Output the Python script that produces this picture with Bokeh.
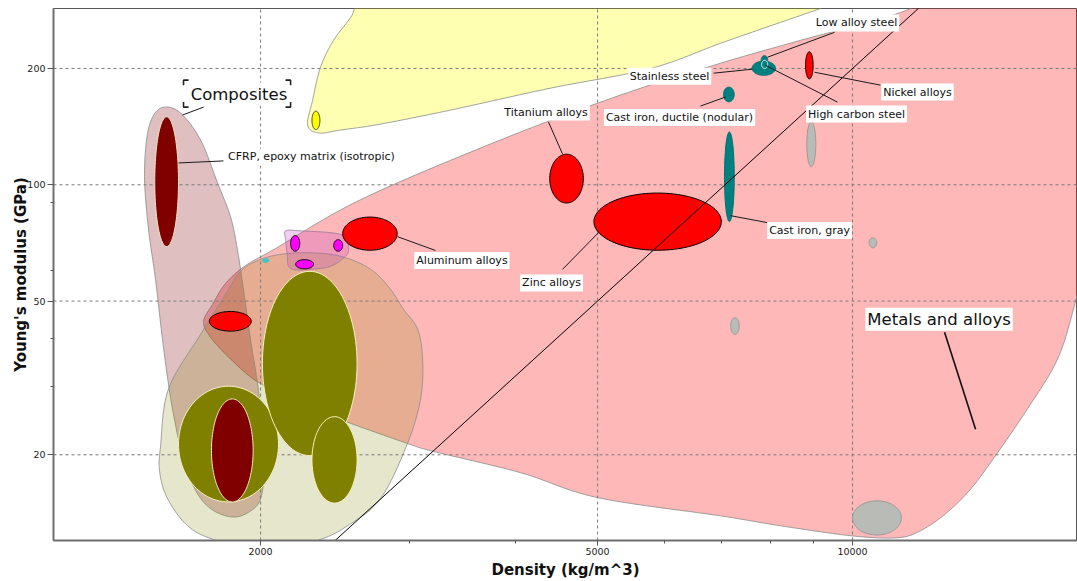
import numpy as np
from bokeh.plotting import figure
from bokeh.models import Label, FixedTicker, NumeralTickFormatter, ColumnDataSource
from bokeh.embed import file_html
from bokeh.resources import INLINE

# ---------------- materials: property ranges ----------------
material = ["Brick", "Stone", "Concrete", "GFRP, epoxy matrix (isotropic)",
            "CFRP, epoxy matrix (isotropic)", "Silicon", "Magnesium alloys",
            "Silica glass", "Borosilicate glass", "Soda-lime glass",
            "Aluminum alloys", "Titanium alloys", "Zinc alloys",
            "Cast iron, gray", "Cast iron, ductile (nodular)", "Stainless steel",
            "Low alloy steel", "High carbon steel", "Nickel alloys",
            "Copper alloys", "Tin", "Silver", "Lead alloys", "Other"]
family = ["Non-technical ceramics", "Non-technical ceramics", "Non-technical ceramics",
          "Composites", "Composites", "Technical ceramics", "Non-ferrous metals",
          "Glasses", "Glasses", "Glasses",
          "Non-ferrous metals", "Non-ferrous metals", "Non-ferrous metals",
          "Ferrous metals", "Ferrous metals", "Ferrous metals",
          "Ferrous metals", "Ferrous metals", "Non-ferrous metals",
          "Other metals", "Other metals", "Other metals", "Other metals", "Other"]
density_min = [1600, 2010, 2300, 1750, 1500, 2300, 1740, 2170, 2200, 2440,
               2500, 4390, 4950, 7060, 7040, 7610, 7800, 7810, 8800,
               8830, 7180, 10460, 10000, 2010]
density_max = [2100, 2600, 2600, 1960, 1600, 2350, 1950, 2225, 2310, 2500,
               2900, 4810, 7000, 7250, 7250, 8110, 7940, 7940, 8985,
               9050, 7350, 10680, 11420, 2045]
modulus_min = [15.1, 19.9, 15.0, 15.1, 69.2, 139, 41.8, 67.3, 60.6, 67.3,
               67.7, 89.7, 67.7, 80.3, 164, 192, 204, 200, 188,
               111.5, 41.0, 68.7, 12.4, 63.0]
modulus_max = [30.1, 59.7, 25.1, 27.9, 150, 155, 47.0, 73.9, 64.0, 72.1,
               82.5, 120, 95.2, 137, 179, 209, 216, 210, 221,
               145.6, 45.3, 72.9, 15.2, 64.4]

# ---------------- family envelopes (outline points, kg/m^3 and GPa) ----------------
ceramics_env_density = [2273, 2304, 2354, 2439, 2555, 2749, 3839, 6615, 11394, 9167,
                        8222, 6985, 5775, 4399, 3352, 2771, 2486, 2342]
ceramics_env_modulus = [142.8, 165.6, 201.5, 236.6, 271, 338, 338, 338, 338, 286,
                        263.3, 232.5, 200, 177.9, 156.1, 143.6, 138.6, 136.2]

metals_env_density = [1713, 1755, 1818, 1920, 2083, 2625, 3839, 5321, 6985, 8682,
                      11394, 14951, 21290, 19620, 18335, 17460, 16090, 14750,
                      13785, 12874, 12030, 11303, 9972, 8222, 6985, 4998, 4055, 3202,
                      2982, 2533, 2230, 1984, 1843, 1746]
metals_env_modulus = [44.3, 49.0, 55.5, 61.8, 68.4, 91.5, 130.6, 170.7, 206.4, 236.6,
                      279.3, 358, 380, 91.5, 49.9, 35.4, 26.3, 19.9,
                      16.3, 14.06, 12.72, 12.2, 12.34, 13.1, 13.9, 15.5, 17.98, 20.4,
                      21.4, 24.3, 27.2, 30.9, 35.4, 40.3]

composites_env_density = [1537, 1609, 1699, 1779, 1843, 1878, 1909, 1946, 1984, 2011,
                          2022, 2000, 1946, 1858, 1755, 1681, 1622, 1574, 1537, 1503,
                          1475, 1459, 1467, 1491]
composites_env_modulus = [158.9, 153.4, 130.6, 101.2, 82.7, 68.0, 53.6, 39.8, 30.5, 23.3,
                          18.4, 15.4, 14.3, 13.8, 14.4, 16.0, 19.5, 26.3, 37.5, 56.9,
                          76.5, 103.0, 130.6, 149.7]

nontech_env_density = [1894, 2000, 2152, 2373, 2555, 2719, 2848, 2950, 3065, 3107,
                       3090, 2982, 2771, 2533, 2335, 2027, 1760, 1640, 1553, 1520,
                       1524, 1557, 1699, 1818]
nontech_env_modulus = [59.7, 64.1, 66.4, 66.4, 64.1, 59.7, 53.6, 47.6, 42.3, 35.4,
                       27.9, 21.4, 15.4, 13.1, 12.0, 11.1, 12.07, 13.1, 15.4, 18.1,
                       21.1, 29.6, 41.0, 52.0]

glasses_env_density = [2141, 2230, 2440, 2530, 2541, 2525, 2419, 2291, 2199, 2158, 2150, 2141]
glasses_env_modulus = [76.0, 76.0, 75.0, 73.0, 69.5, 65.6, 61.5, 60.4, 60.2, 61.5, 66.0, 72.1]

# ---------------- axes ----------------
density_ticks = [2000, 5000, 10000]
density_minor_ticks = [3000, 4000, 6000, 7000, 8000, 9000]
modulus_ticks = [20, 50, 100, 200]
modulus_minor_ticks = [30, 40, 60, 90]
density_range = (1139, 18435)
modulus_range = (12.0, 286)

# guide line of slope 2 (E^1/2 / rho = const) through 5000 kg/m^3, 50 GPa
guide_density = 5000
guide_modulus = 50
guide_slope = 2

# ---------------- annotations ----------------
label_text = ["Composites", "CFRP, epoxy matrix (isotropic)", "Titanium alloys",
              "Stainless steel", "Cast iron, ductile (nodular)", "Low alloy steel",
              "Nickel alloys", "High carbon steel", "Cast iron, gray",
              "Aluminum alloys", "Zinc alloys", "Metals and alloys"]
label_density = [1886, 2297, 4346, 6080, 6248, 10109, 11930, 10109, 8897, 3458, 4412, 12652]
label_modulus = [171.7, 118.1, 154.3, 191.0, 149.3, 262.5, 173.8, 152.4, 76.1, 63.7, 55.7, 44.9]
label_big = {"Composites", "Metals and alloys"}

leader_x0 = [1713, 1600, 4375, 6853, 6615, 9521, 9018, 7893, 7177, 2902, 5013, 12843]
leader_y0 = [158.9, 113.9, 145.4, 194.5, 159.9, 248.1, 195.6, 203.9, 83.2, 73.4, 75.2, 41.5]
leader_x1 = [1618, 1808, 4545, 7617, 7079, 7936, 10790, 9598, 7936, 3218, 4545, 13973]
leader_y1 = [151.6, 115.3, 120.2, 199.2, 168.7, 213.9, 181.1, 163.7, 79.8, 67.6, 60.4, 23.3]

bracket_density = (1622, 2170)
bracket_modulus = (158.9, 186.6)

# ---------------- styles ----------------
fam_fill = {"Non-technical ceramics": "#808000", "Composites": "#800000",
            "Technical ceramics": "#FFFF00", "Non-ferrous metals": "#FF0000",
            "Glasses": "#FF00FF", "Ferrous metals": "#008080",
            "Other metals": "#B9BBB6", "Other": "#3CC8C8"}
fam_line = {"Non-technical ceramics": "#F6F2C0", "Composites": "#F0E4C4",
            "Technical ceramics": "#333333", "Non-ferrous metals": "#000000",
            "Glasses": "#000000", "Ferrous metals": "#007070",
            "Other metals": "#9A9A9A", "Other": "#3CC8C8"}
special_line = {"High carbon steel": "#FFFFFF"}
FONT = "DejaVu Sans"


def closed_spline(xs, ys, n=14):
    P = np.column_stack([np.log10(xs), np.log10(ys)])
    m = len(P)
    out = []
    for i in range(m):
        p0, p1, p2, p3 = P[(i - 1) % m], P[i], P[(i + 1) % m], P[(i + 2) % m]
        for t in np.linspace(0, 1, n, endpoint=False):
            t2, t3 = t * t, t * t * t
            out.append(0.5 * (2 * p1 + (-p0 + p2) * t
                              + (2 * p0 - 5 * p1 + 4 * p2 - p3) * t2
                              + (-p0 + 3 * p1 - 3 * p2 + p3) * t3))
    out = np.array(out)
    return list(10 ** out[:, 0]), list(10 ** out[:, 1])


def log_ellipse(dmin, dmax, emin, emax, n=100):
    cx = (np.log10(dmin) + np.log10(dmax)) / 2
    rx = (np.log10(dmax) - np.log10(dmin)) / 2
    cy = (np.log10(emin) + np.log10(emax)) / 2
    ry = (np.log10(emax) - np.log10(emin)) / 2
    t = np.linspace(0, 2 * np.pi, n, endpoint=False)
    return list(10 ** (cx + rx * np.cos(t))), list(10 ** (cy + ry * np.sin(t)))


p = figure(width=1077, height=581, x_axis_type="log", y_axis_type="log",
           x_range=density_range, y_range=modulus_range,
           output_backend="svg", toolbar_location=None,
           min_border_left=53, min_border_right=0, min_border_top=8, min_border_bottom=39,
           background_fill_color="white", border_fill_color="white")
p.grid.visible = False
p.outline_line_color = "#555555"
p.outline_line_width = 1

# envelopes
envelopes = [
    (ceramics_env_density, ceramics_env_modulus, "#FFFF00", 0.30, "#8C8C8C"),
    (metals_env_density, metals_env_modulus, "#FF0000", 0.28, "#8C8C8C"),
    (composites_env_density, composites_env_modulus, "#800000", 0.25, "#8C8C8C"),
    (nontech_env_density, nontech_env_modulus, "#808000", 0.20, "#8C8C8C"),
    (glasses_env_density, glasses_env_modulus, "#C040C0", 0.25, "#9A7A9A"),
]
for dx, my, col, a, lc in envelopes:
    sx, sy = closed_spline(dx, my)
    p.patch(sx, sy, fill_color=col, fill_alpha=a, line_color=lc,
            line_width=0.9, line_alpha=0.9)

# grid lines (above envelopes, below materials)
p.segment(x0=density_ticks, y0=[modulus_range[0]] * len(density_ticks),
          x1=density_ticks, y1=[modulus_range[1]] * len(density_ticks),
          line_color="#7A7A7A", line_dash="3 3", line_width=1)
p.segment(x0=[density_range[0]] * len(modulus_ticks), y0=modulus_ticks,
          x1=[density_range[1]] * len(modulus_ticks), y1=modulus_ticks,
          line_color="#7A7A7A", line_dash="3 3", line_width=1)

# material ellipses
xs, ys, fills, lines = [], [], [], []
for name, fam, d0, d1, e0, e1 in zip(material, family, density_min, density_max,
                                     modulus_min, modulus_max):
    ex, ey = log_ellipse(d0, d1, e0, e1)
    xs.append(ex)
    ys.append(ey)
    fills.append(fam_fill[fam])
    lines.append(special_line.get(name, fam_line[fam]))
src = ColumnDataSource(dict(xs=xs, ys=ys, fill=fills, line=lines, name=material))
p.patches("xs", "ys", source=src, fill_color="fill", line_color="line", line_width=1)

# guide line
gx = np.array(density_range, dtype=float)
gy = guide_modulus * (gx / guide_density) ** guide_slope
p.line(gx, gy, line_color="black", line_width=1)

# leaders
p.segment(x0=leader_x0[:-1], y0=leader_y0[:-1], x1=leader_x1[:-1], y1=leader_y1[:-1],
          line_color="#1A1A1A", line_width=1)
p.segment(x0=leader_x0[-1:], y0=leader_y0[-1:], x1=leader_x1[-1:], y1=leader_y1[-1:],
          line_color="#111111", line_width=1.6)

# bracket corners around "Composites"
ax, ay = 10 ** 0.006, 10 ** 0.013
bx0, bx1 = bracket_density
by0, by1 = bracket_modulus
corners_x = [[bx0 * ax, bx0, bx0], [bx1 / ax, bx1, bx1], [bx0 * ax, bx0, bx0], [bx1 / ax, bx1, bx1]]
corners_y = [[by1, by1, by1 / ay], [by1, by1, by1 / ay], [by0, by0, by0 * ay], [by0, by0, by0 * ay]]
p.multi_line(corners_x, corners_y, line_color="#222222", line_width=1.6)

# labels
for txt, lx, ly in zip(label_text, label_density, label_modulus):
    big = txt in label_big
    p.add_layout(Label(x=lx, y=ly, text=txt, text_align="center", text_baseline="middle",
                       text_font=FONT, text_font_size="16.5px" if big else "11px",
                       text_color="#111111", background_fill_color="white",
                       background_fill_alpha=1.0, padding=2))

# axes
for ax_ in (p.xaxis[0], p.yaxis[0]):
    ax_.axis_line_color = "#6E6E6E"
    ax_.axis_line_width = 2
    ax_.major_tick_line_color = "#555555"
    ax_.minor_tick_line_color = "#555555"
    ax_.major_tick_in = 0
    ax_.minor_tick_in = 0
    ax_.major_label_text_font = FONT
    ax_.major_label_text_font_size = "9.5px"
    ax_.major_label_text_color = "#222222"
    ax_.axis_label_text_font = FONT
    ax_.axis_label_text_font_style = "bold"
    ax_.axis_label_text_font_size = "15px"
    ax_.axis_label_text_color = "#111111"
    ax_.major_label_standoff = 2
    ax_.formatter = NumeralTickFormatter(format="0")

p.xaxis.ticker = FixedTicker(ticks=density_ticks, minor_ticks=density_minor_ticks)
p.yaxis.ticker = FixedTicker(ticks=modulus_ticks, minor_ticks=modulus_minor_ticks)
p.xaxis.major_tick_out = 5
p.xaxis.minor_tick_out = 3
p.yaxis.major_tick_out = 6
p.yaxis.minor_tick_out = 3
p.xaxis.axis_label = "Density (kg/m^3)"
p.yaxis.axis_label = "Young's modulus (GPa)"
p.xaxis.axis_label_standoff = 3
p.yaxis.axis_label_standoff = -6

open("out.html", "w").write(file_html(p, INLINE))
